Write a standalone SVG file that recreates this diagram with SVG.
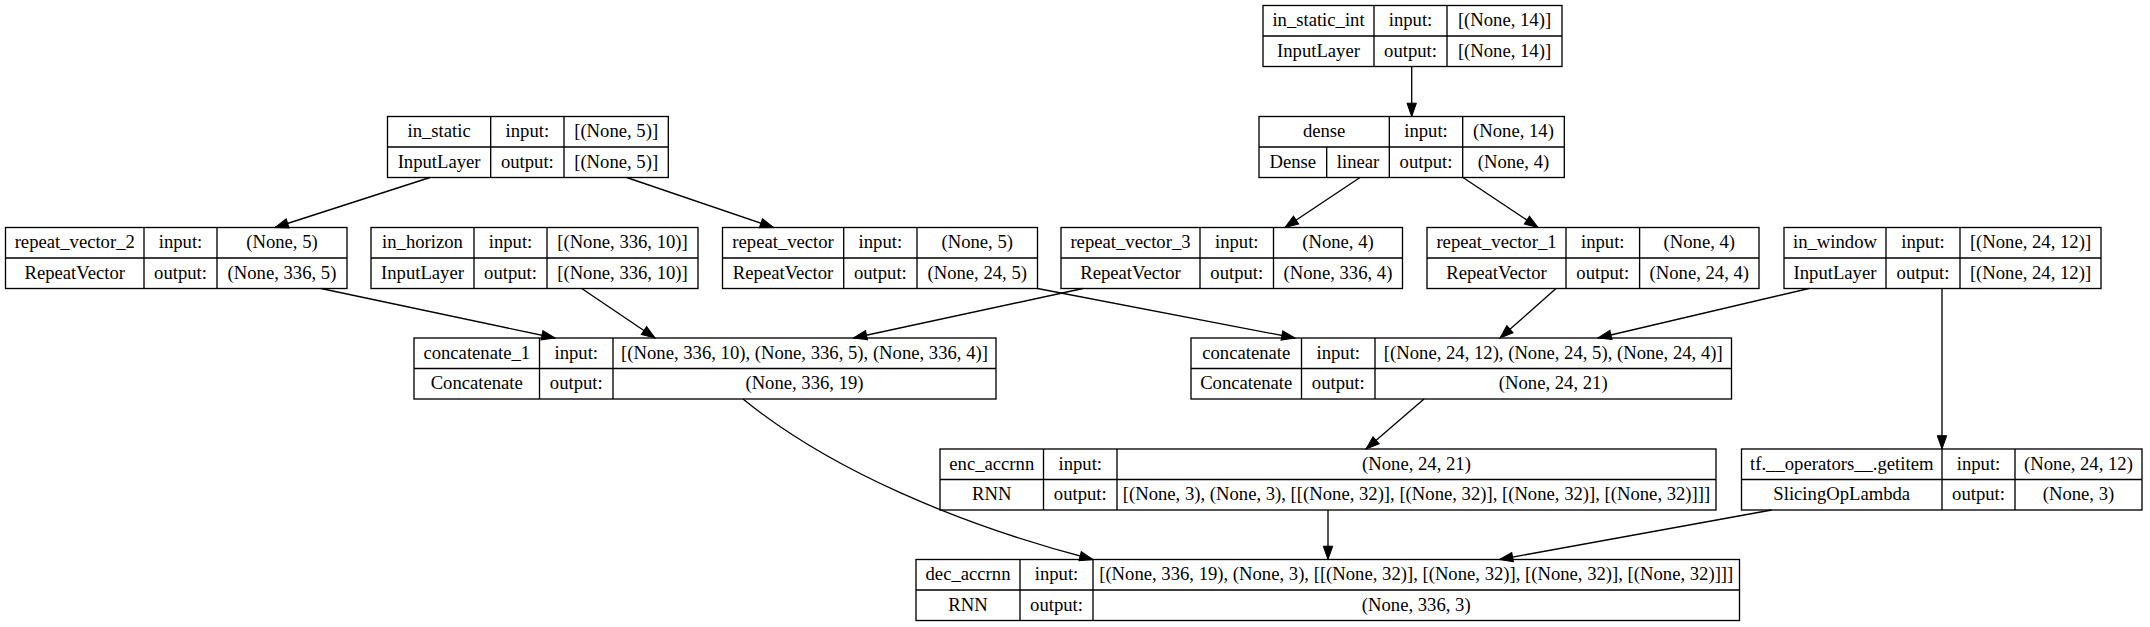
<svg xmlns="http://www.w3.org/2000/svg" width="2150" height="627" viewBox="0 0 2150 627">
<style>
.b{fill:none;stroke:#000;stroke-width:1.33}
.t{font-family:"Liberation Serif","Times New Roman",serif;font-size:18.67px;text-anchor:middle;fill:#000}
.e{fill:none;stroke:#000;stroke-width:1.33;marker-end:url(#arr)}
</style>
<defs>
<marker id="arr" markerUnits="userSpaceOnUse" markerWidth="13.3" markerHeight="9.4" viewBox="0 0 13.3 9.4" refX="13.3" refY="4.7" orient="auto" overflow="visible">
<path d="M0,0 L13.3,4.7 L0,9.4 z" fill="#000" stroke="#000" stroke-width="1"/>
</marker>
</defs>
<rect width="2150" height="627" fill="#fff"/>

<g id="edges">
<path class="e" d="M430,177.5 L275,227.5"/>
<path class="e" d="M626.7,177.5 L773.5,227.5"/>
<path class="e" d="M1411.7,66.5 L1411.7,116.5"/>
<path class="e" d="M1360,177.5 L1285,227.5"/>
<path class="e" d="M1463,177.5 L1538,227.5"/>
<path class="e" d="M321,288.5 L555,338"/>
<path class="e" d="M581.7,288.5 L655,338"/>
<path class="e" d="M1083,288.5 L853.5,338"/>
<path class="e" d="M1037.5,288.5 L1295,338"/>
<path class="e" d="M1556,288.5 L1500,338"/>
<path class="e" d="M1809,288.5 L1598,338"/>
<path class="e" d="M1942,288.5 L1942,449"/>
<path class="e" d="M1424,399 L1366,449"/>
<path class="e" d="M743,399 C830,470 960,525 1093,559.5"/>
<path class="e" d="M1328,510 L1328,559.5"/>
<path class="e" d="M1771.7,510 L1499.5,559.5"/>
</g>

<g id="in_static_int">
<rect class="b" x="1263" y="5.5" width="299" height="61"/>
<path class="b" d="M1263,36 H1562 M1374,5.5 V66.5 M1447,5.5 V66.5"/>
<text class="t" x="1318.5" y="26.3">in_static_int</text>
<text class="t" x="1410.5" y="26.3">input:</text>
<text class="t" x="1504.5" y="26.3">[(None, 14)]</text>
<text class="t" x="1318.5" y="56.8">InputLayer</text>
<text class="t" x="1410.5" y="56.8">output:</text>
<text class="t" x="1504.5" y="56.8">[(None, 14)]</text>
</g>

<g id="in_static">
<rect class="b" x="387.5" y="116.5" width="280.8" height="61"/>
<path class="b" d="M387.5,147 H668.3 M490.7,116.5 V177.5 M564,116.5 V177.5"/>
<text class="t" x="439.1" y="137.3">in_static</text>
<text class="t" x="527.35" y="137.3">input:</text>
<text class="t" x="616.15" y="137.3">[(None, 5)]</text>
<text class="t" x="439.1" y="167.8">InputLayer</text>
<text class="t" x="527.35" y="167.8">output:</text>
<text class="t" x="616.15" y="167.8">[(None, 5)]</text>
</g>

<g id="dense">
<rect class="b" x="1259" y="116.5" width="305.3" height="61"/>
<path class="b" d="M1259,147 H1564.3 M1389.3,116.5 V177.5 M1462.7,116.5 V177.5 M1326.7,147 V177.5"/>
<text class="t" x="1324.15" y="137.3">dense</text>
<text class="t" x="1426" y="137.3">input:</text>
<text class="t" x="1513.5" y="137.3">(None, 14)</text>
<text class="t" x="1292.85" y="167.8">Dense</text>
<text class="t" x="1358" y="167.8">linear</text>
<text class="t" x="1426" y="167.8">output:</text>
<text class="t" x="1513.5" y="167.8">(None, 4)</text>
</g>

<g id="repeat_vector_2">
<rect class="b" x="5.5" y="227.5" width="341.5" height="61"/>
<path class="b" d="M5.5,258 H347 M144,227.5 V288.5 M217,227.5 V288.5"/>
<text class="t" x="74.75" y="248.3">repeat_vector_2</text>
<text class="t" x="180.5" y="248.3">input:</text>
<text class="t" x="282" y="248.3">(None, 5)</text>
<text class="t" x="74.75" y="278.8">RepeatVector</text>
<text class="t" x="180.5" y="278.8">output:</text>
<text class="t" x="282" y="278.8">(None, 336, 5)</text>
</g>

<g id="in_horizon">
<rect class="b" x="371" y="227.5" width="327" height="61"/>
<path class="b" d="M371,258 H698 M474,227.5 V288.5 M547,227.5 V288.5"/>
<text class="t" x="422.5" y="248.3">in_horizon</text>
<text class="t" x="510.5" y="248.3">input:</text>
<text class="t" x="622.5" y="248.3">[(None, 336, 10)]</text>
<text class="t" x="422.5" y="278.8">InputLayer</text>
<text class="t" x="510.5" y="278.8">output:</text>
<text class="t" x="622.5" y="278.8">[(None, 336, 10)]</text>
</g>

<g id="repeat_vector">
<rect class="b" x="722.5" y="227.5" width="315" height="61"/>
<path class="b" d="M722.5,258 H1037.5 M843.7,227.5 V288.5 M917,227.5 V288.5"/>
<text class="t" x="783.1" y="248.3">repeat_vector</text>
<text class="t" x="880.35" y="248.3">input:</text>
<text class="t" x="977.25" y="248.3">(None, 5)</text>
<text class="t" x="783.1" y="278.8">RepeatVector</text>
<text class="t" x="880.35" y="278.8">output:</text>
<text class="t" x="977.25" y="278.8">(None, 24, 5)</text>
</g>

<g id="repeat_vector_3">
<rect class="b" x="1061" y="227.5" width="341.5" height="61"/>
<path class="b" d="M1061,258 H1402.5 M1200,227.5 V288.5 M1273.5,227.5 V288.5"/>
<text class="t" x="1130.5" y="248.3">repeat_vector_3</text>
<text class="t" x="1236.75" y="248.3">input:</text>
<text class="t" x="1338" y="248.3">(None, 4)</text>
<text class="t" x="1130.5" y="278.8">RepeatVector</text>
<text class="t" x="1236.75" y="278.8">output:</text>
<text class="t" x="1338" y="278.8">(None, 336, 4)</text>
</g>

<g id="repeat_vector_1">
<rect class="b" x="1427" y="227.5" width="332" height="61"/>
<path class="b" d="M1427,258 H1759 M1566,227.5 V288.5 M1639.6,227.5 V288.5"/>
<text class="t" x="1496.5" y="248.3">repeat_vector_1</text>
<text class="t" x="1602.8" y="248.3">input:</text>
<text class="t" x="1699.3" y="248.3">(None, 4)</text>
<text class="t" x="1496.5" y="278.8">RepeatVector</text>
<text class="t" x="1602.8" y="278.8">output:</text>
<text class="t" x="1699.3" y="278.8">(None, 24, 4)</text>
</g>

<g id="in_window">
<rect class="b" x="1784" y="227.5" width="317" height="61"/>
<path class="b" d="M1784,258 H2101 M1886,227.5 V288.5 M1960,227.5 V288.5"/>
<text class="t" x="1835" y="248.3">in_window</text>
<text class="t" x="1923" y="248.3">input:</text>
<text class="t" x="2030.5" y="248.3">[(None, 24, 12)]</text>
<text class="t" x="1835" y="278.8">InputLayer</text>
<text class="t" x="1923" y="278.8">output:</text>
<text class="t" x="2030.5" y="278.8">[(None, 24, 12)]</text>
</g>

<g id="concatenate_1">
<rect class="b" x="414" y="338" width="582" height="61"/>
<path class="b" d="M414,368.5 H996 M539.5,338 V399 M613,338 V399"/>
<text class="t" x="476.75" y="358.8">concatenate_1</text>
<text class="t" x="576.25" y="358.8">input:</text>
<text class="t" x="804.5" y="358.8">[(None, 336, 10), (None, 336, 5), (None, 336, 4)]</text>
<text class="t" x="476.75" y="389.3">Concatenate</text>
<text class="t" x="576.25" y="389.3">output:</text>
<text class="t" x="804.5" y="389.3">(None, 336, 19)</text>
</g>

<g id="concatenate">
<rect class="b" x="1191" y="338" width="540.5" height="61"/>
<path class="b" d="M1191,368.5 H1731.5 M1301.5,338 V399 M1375,338 V399"/>
<text class="t" x="1246.25" y="358.8">concatenate</text>
<text class="t" x="1338.25" y="358.8">input:</text>
<text class="t" x="1553.25" y="358.8">[(None, 24, 12), (None, 24, 5), (None, 24, 4)]</text>
<text class="t" x="1246.25" y="389.3">Concatenate</text>
<text class="t" x="1338.25" y="389.3">output:</text>
<text class="t" x="1553.25" y="389.3">(None, 24, 21)</text>
</g>

<g id="enc_accrnn">
<rect class="b" x="940" y="449" width="776" height="61"/>
<path class="b" d="M940,479.5 H1716 M1043.5,449 V510 M1117,449 V510"/>
<text class="t" x="991.75" y="469.8">enc_accrnn</text>
<text class="t" x="1080.25" y="469.8">input:</text>
<text class="t" x="1416.5" y="469.8">(None, 24, 21)</text>
<text class="t" x="991.75" y="500.3">RNN</text>
<text class="t" x="1080.25" y="500.3">output:</text>
<text class="t" x="1416.5" y="500.3">[(None, 3), (None, 3), [[(None, 32)], [(None, 32)], [(None, 32)], [(None, 32)]]]</text>
</g>

<g id="tf_operators_getitem">
<rect class="b" x="1741.5" y="449" width="400.5" height="61"/>
<path class="b" d="M1741.5,479.5 H2142 M1942,449 V510 M2015,449 V510"/>
<text class="t" x="1841.75" y="469.8">tf.__operators__.getitem</text>
<text class="t" x="1978.5" y="469.8">input:</text>
<text class="t" x="2078.5" y="469.8">(None, 24, 12)</text>
<text class="t" x="1841.75" y="500.3">SlicingOpLambda</text>
<text class="t" x="1978.5" y="500.3">output:</text>
<text class="t" x="2078.5" y="500.3">(None, 3)</text>
</g>

<g id="dec_accrnn">
<rect class="b" x="916" y="559.5" width="823.5" height="61"/>
<path class="b" d="M916,590 H1739.5 M1020,559.5 V620.5 M1093,559.5 V620.5"/>
<text class="t" x="968" y="580.3">dec_accrnn</text>
<text class="t" x="1056.5" y="580.3">input:</text>
<text class="t" x="1416.25" y="580.3">[(None, 336, 19), (None, 3), [[(None, 32)], [(None, 32)], [(None, 32)], [(None, 32)]]]</text>
<text class="t" x="968" y="610.8">RNN</text>
<text class="t" x="1056.5" y="610.8">output:</text>
<text class="t" x="1416.25" y="610.8">(None, 336, 3)</text>
</g>
</svg>
